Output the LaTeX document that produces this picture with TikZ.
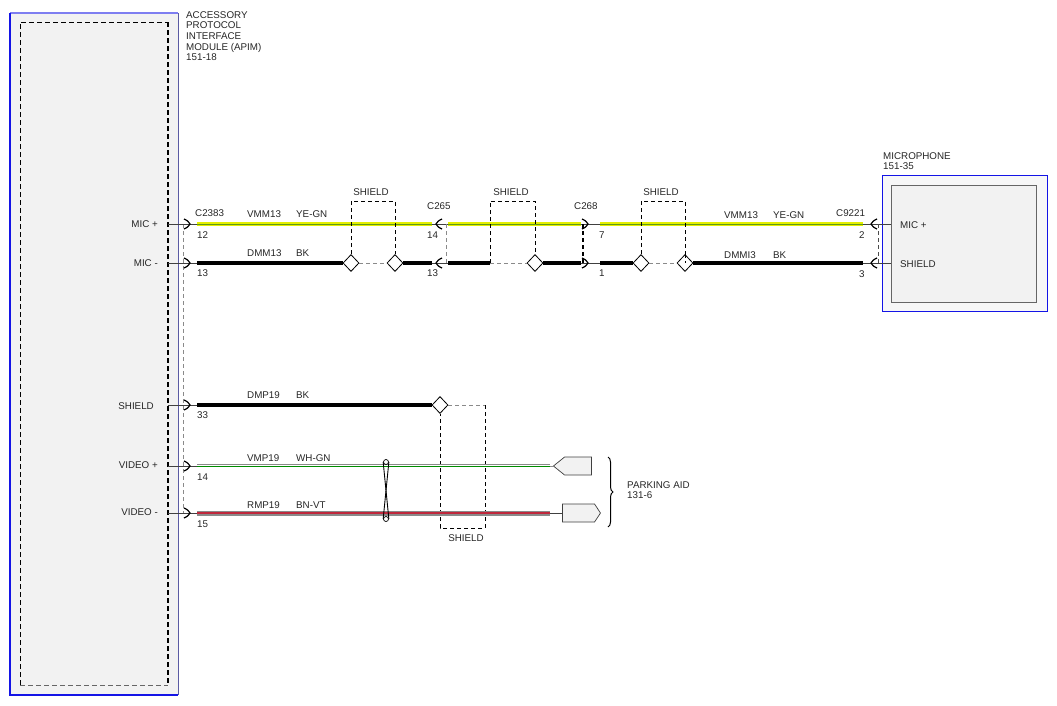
\documentclass[tikz,border=0pt]{standalone}
\usepackage{fontspec}
\setmainfont{Liberation Sans}
\usetikzlibrary{shapes.geometric,shapes.symbols,decorations.pathreplacing,positioning}
\definecolor{panelgray}{HTML}{F2F2F2}
\definecolor{boxblue}{HTML}{1414E6}
\definecolor{yegn}{HTML}{E2EE00}
\definecolor{gnstripe}{HTML}{5E9A18}
\definecolor{bnvt}{HTML}{C0283C}
\definecolor{wiregray}{HTML}{8A8A8A}
\newcommand{\wname}[2]{\makebox[49pt][l]{#1}#2}

\begin{document}
\begin{tikzpicture}[x=1pt,y=-1pt,
    every node/.style={font=\fontsize{9.8}{10.7}\selectfont, text=black!85, inner sep=0pt},
    txt/.style={anchor=west},
    signame/.style={anchor=east},
    stub/.style={line width=0.7pt, black!75},
    wireyg/.style={draw=gnstripe, line width=0.9pt, preaction={draw=yegn, line width=4pt}},
    wirebk/.style={draw=black, line width=4.5pt},
    wirewg/.style={draw=green!55!black, line width=0.8pt, preaction={draw=wiregray, line width=4.6pt}, preaction={draw=white, line width=3pt}},
    wirebv/.style={draw=bnvt, line width=2.8pt, preaction={draw=wiregray, line width=5pt}},
    drain/.style={draw=wiregray, line width=0.6pt, dash pattern=on 4pt off 3pt},
    shieldbox/.style={draw=black, line width=0.9pt, dash pattern=on 4pt off 3pt},
    shieldjoint/.style={diamond, draw=black, fill=white, line width=0.8pt, minimum width=16pt, minimum height=17pt},
    twistend/.style={circle, draw=black, fill=white, line width=0.7pt, minimum size=5pt},
    plug/.style={signal, draw=black!75, fill=panelgray, line width=0.7pt, minimum width=38pt, minimum height=18pt},
    conright/.pic={\draw[line width=1.2pt] (-6,-5) .. controls (-2,-3) .. (0,0) .. controls (-2,3) .. (-6,5);},
    conleft/.pic={\draw[line width=1.2pt] (6,-5) .. controls (2,-3) .. (0,0) .. controls (2,3) .. (6,5);}
  ]
  \useasboundingbox (0,0) rectangle (1057,705);

  % APIM module
  \fill[panelgray] (10,13) rectangle (178,695);
  \draw[boxblue!55, line width=1.2pt] (10,13) -- (178,13);
  \draw[boxblue!35!gray, line width=1pt] (178,13) -- (178,695);
  \draw[boxblue, line width=2pt] (10,13) -- (10,695) -- (178,695);
  \draw[black!60, line width=0.7pt, dash pattern=on 5pt off 3pt] (20,685) -- (168,685);
  \draw[black, line width=0.8pt, dash pattern=on 5pt off 3pt] (20,685) -- (20,22) -- (168,22);
  \draw[black, line width=1.6pt, dash pattern=on 5pt off 3pt] (168,22) -- (168,685);
  \node[anchor=north west, align=left] (apim) at (186,11) {ACCESSORY\\PROTOCOL\\INTERFACE\\MODULE (APIM)\\151-18};

  % microphone
  \fill[panelgray!60!white] (882,175) rectangle (1047,311);
  \draw[boxblue, line width=1pt] (882,175) rectangle (1047,311);
  \draw[black!60, fill=panelgray, line width=0.8pt] (891,185) rectangle (1036,302);
  \node[anchor=south west, align=left] (mic) at (883,170) {MICROPHONE\\151-35};
  \node[txt] (mic-p) at (900,225) {MIC +};
  \node[txt] (mic-s) at (900,264) {SHIELD};
  \coordinate (m-micp) at (891,224);
  \coordinate (m-shd) at (891,263);

  % APIM pins and C2383
  \node[signame] (s-micp) at (158,224) {MIC +};
  \node[signame] (s-micm) at (158,263) {MIC -};
  \node[signame] (s-shd) at (154,406) {SHIELD};
  \node[signame] (s-vidp) at (158,465) {VIDEO +};
  \node[signame] (s-vidm) at (158,512) {VIDEO -};
  \coordinate (a-micp) at (168,224);
  \coordinate (a-micm) at (168,263);
  \coordinate (a-shd) at (168,405);
  \coordinate (a-vidp) at (168,466);
  \coordinate (a-vidm) at (168,513);
  \coordinate (p-micp) at (190,224);
  \coordinate (p-micm) at (190,263);
  \coordinate (p-shd) at (190,405);
  \coordinate (p-vidp) at (190,466);
  \coordinate (p-vidm) at (190,513);
  \draw[drain] ([xshift=-7pt]p-micp) -- ([xshift=-7pt]p-vidm);
  \draw[stub] (a-micp) -- ([xshift=7pt]p-micp);
  \draw[stub] (a-micm) -- ([xshift=7pt]p-micm);
  \draw[stub] (a-shd) -- ([xshift=7pt]p-shd);
  \draw[stub] (a-vidp) -- ([xshift=7pt]p-vidp);
  \draw[stub] (a-vidm) -- ([xshift=7pt]p-vidm);
  \node[txt] (c2383) at (195,213) {C2383};
  \node[txt] at (197,235) {12};
  \node[txt] at (197,273) {13};
  \node[txt] at (197,415) {33};
  \node[txt] at (197,477) {14};
  \node[txt] at (197,524) {15};

  % in-line connectors
  \coordinate (c265-14) at (436,224);
  \coordinate (c265-13) at (436,263);
  \coordinate (c268-7) at (588,224);
  \coordinate (c268-1) at (588,263);
  \coordinate (c9221-2) at (871,224);
  \coordinate (c9221-3) at (871,263);
  \node[txt] (c265) at (427,206) {C265};
  \node[txt] at (427,235) {14};
  \node[txt] at (427,273) {13};
  \node[txt] (c268) at (574,206) {C268};
  \node[txt] at (599,235) {7};
  \node[txt] at (599,273) {1};
  \node[txt] (c9221) at (836,213) {C9221};
  \node[txt] at (859,235) {2};
  \node[txt] at (859,274) {3};

  % shield joints
  \node[shieldjoint] (d1a) at (351,263) {};
  \node[shieldjoint] (d1b) at (395,263) {};
  \coordinate (sh2) at (490,263);
  \node[shieldjoint] (d2) at (535,263) {};
  \node[shieldjoint] (d3a) at (641,263) {};
  \node[shieldjoint] (d3b) at (685,263) {};
  \node[shieldjoint] (d4) at (440,405) {};

  % MIC + circuit
  \draw[wireyg] ([xshift=7pt]p-micp) -- ([xshift=-4pt]c265-14);
  \draw[wireyg] ([xshift=12pt]c265-14) -- ([xshift=-7pt]c268-7);
  \draw[wireyg] ([xshift=12pt]c268-7) -- ([xshift=-8pt]c9221-2);
  \draw[stub] ([xshift=-4pt]c265-14) -- ([xshift=12pt]c265-14);
  \draw[stub] ([xshift=-7pt]c268-7) -- ([xshift=12pt]c268-7);
  \draw[stub] ([xshift=-8pt]c9221-2) -- (m-micp);
  \node[txt] at (247,214) {\wname{VMM13}{YE-GN}};
  \node[txt] at (724,215) {\wname{VMM13}{YE-GN}};

  % MIC - / shield circuit
  \draw[wirebk] ([xshift=7pt]p-micm) -- (d1a.west);
  \draw[drain] (d1a.east) -- (d1b.west);
  \draw[wirebk] (d1b.east) -- ([xshift=-4pt]c265-13);
  \draw[wirebk] ([xshift=12pt]c265-13) -- (sh2);
  \draw[drain] (sh2) -- (d2.west);
  \draw[wirebk] (d2.east) -- ([xshift=-7pt]c268-1);
  \draw[wirebk] ([xshift=12pt]c268-1) -- (d3a.west);
  \draw[drain] (d3a.east) -- (d3b.west);
  \draw[wirebk] (d3b.east) -- ([xshift=-8pt]c9221-3);
  \draw[stub] ([xshift=-4pt]c265-13) -- ([xshift=12pt]c265-13);
  \draw[stub] ([xshift=-7pt]c268-1) -- ([xshift=12pt]c268-1);
  \draw[stub] ([xshift=-8pt]c9221-3) -- (m-shd);
  \node[txt] at (247,253) {\wname{DMM13}{BK}};
  \node[txt] at (724,255) {\wname{DMMI3}{BK}};

  % shield boxes
  \draw[shieldbox] (d1a.north) -- ++(0,-53) -| (d1b.north);
  \draw[shieldbox] (sh2) -- ++(0,-62) -| (d2.north);
  \draw[shieldbox] (d3a.north) -- ++(0,-53) -| (d3b.north);
  \draw[shieldbox, line width=0.6pt] (d3b.north) -- (d3b.center);
  \node (sh1-lbl) at (371,192) {SHIELD};
  \node (sh2-lbl) at (511,192) {SHIELD};
  \node (sh3-lbl) at (661,192) {SHIELD};
  \draw[drain] ([xshift=10pt]c265-14) -- ([xshift=10pt]c265-13);
  \draw[shieldbox, line width=1.2pt] ([xshift=-5pt]c268-7) -- ([xshift=-5pt]c268-1);
  \draw[drain, black!70] ([xshift=7pt]c9221-2) -- ([xshift=7pt]c9221-3);

  % connector symbols
  \pic at (p-micp) {conright};
  \pic at (p-micm) {conright};
  \pic at (p-shd) {conright};
  \pic at (p-vidp) {conright};
  \pic at (p-vidm) {conright};
  \pic at (c265-14) {conleft};
  \pic at (c265-13) {conleft};
  \pic at (c268-7) {conright};
  \pic at (c268-1) {conright};
  \pic at (c9221-2) {conleft};
  \pic at (c9221-3) {conleft};

  % parking aid circuit
  \draw[wirebk] ([xshift=7pt]p-shd) -- (d4.west);
  \node[txt] at (247,395) {\wname{DMP19}{BK}};
  \coordinate (sh4) at (485,528);
  \draw[drain] (d4.east) -- (d4.east -| sh4);
  \draw[shieldbox] (d4.east -| sh4) -- (sh4) -| (d4.south);
  \node (sh4-lbl) at (466,538) {SHIELD};

  \node[plug, signal to=west, signal pointer angle=78] (pk1) at (578,466) {};
  \node[plug, signal to=east, signal pointer angle=113] (pk2) at (578.5,513) {};
  \coordinate (pa-vidp) at (550,466);
  \coordinate (pa-vidm) at (550,513);
  \draw[wirewg] ([xshift=7pt]p-vidp) -- (pa-vidp);
  \draw[wirebv] ([xshift=7pt]p-vidm) -- (pa-vidm);
  \draw[stub, wiregray] (pa-vidp) -- (pk1.west);
  \draw[stub] (pa-vidm) -- (pk2.west);
  \node[txt] at (247,458) {\wname{VMP19}{WH-GN}};
  \node[txt] at (247,505) {\wname{RMP19}{BN-VT}};

  % twisted pair
  \node[twistend] (tw-t) at (386,462) {};
  \node[twistend] (tw-b) at (386,519) {};
  \draw[line width=0.9pt] (tw-t.west) -- (tw-b.east);
  \draw[line width=0.9pt] (tw-t.east) -- (tw-b.west);

  % parking aid module
  \coordinate (br-t) at (608,457);
  \coordinate (br-b) at (608,527);
  \draw[decorate, decoration={brace, amplitude=5pt}, line width=1pt] (br-t) -- (br-b);
  \node[anchor=west, align=left] (park) at (627,490) {PARKING AID\\131-6};
\end{tikzpicture}
\end{document}
